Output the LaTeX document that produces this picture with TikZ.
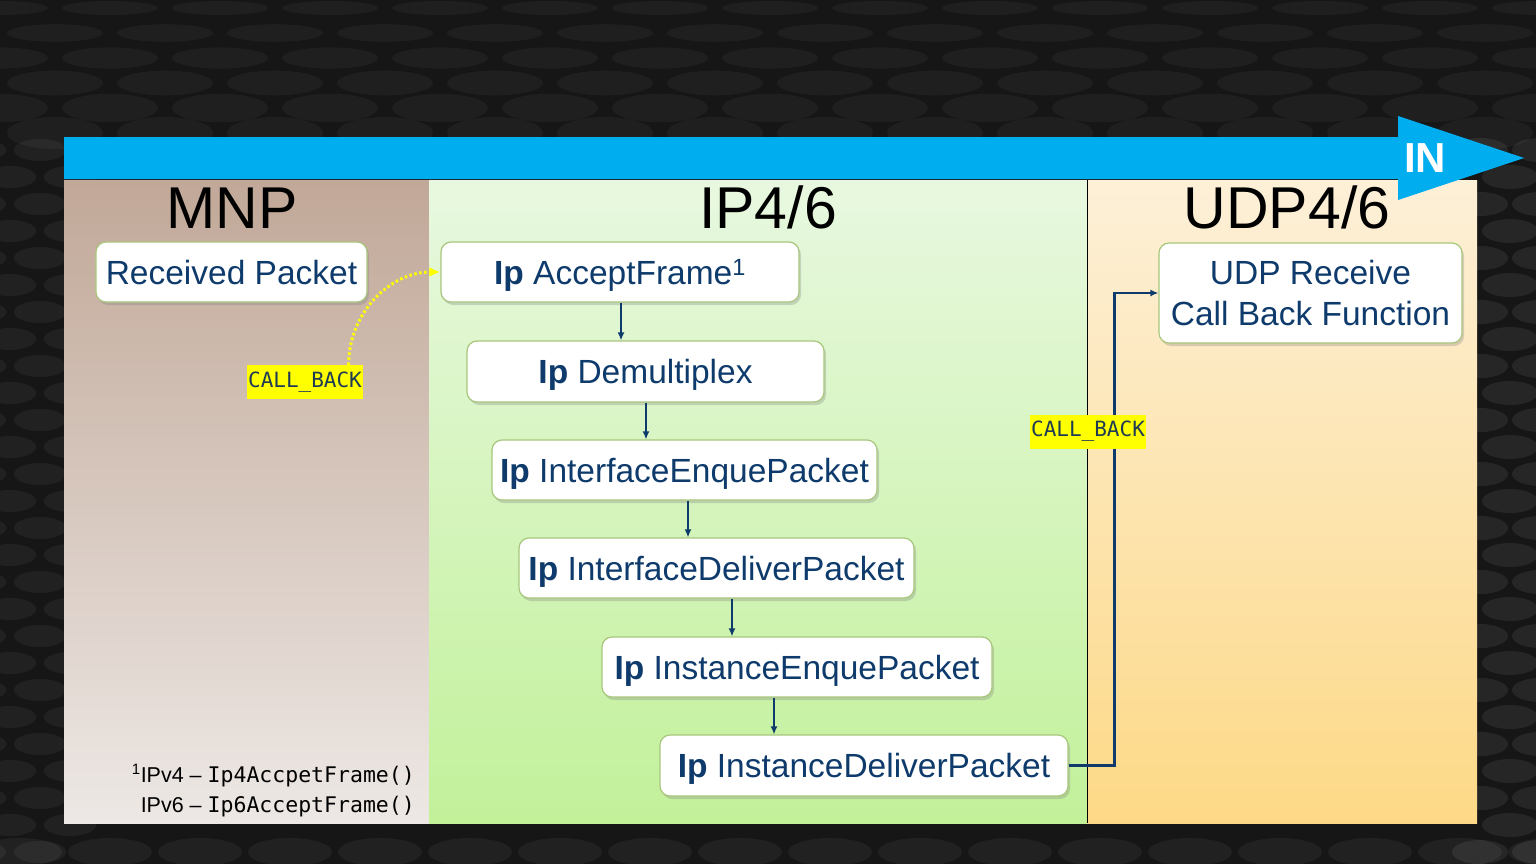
\documentclass[tikz,border=0pt]{standalone}
\usepackage{fontspec}
\setmainfont{Liberation Sans}
\newfontfamily\codefont{DejaVu Sans Mono}
\usetikzlibrary{arrows.meta,shadows}

\definecolor{bgdark}{HTML}{161616}
\definecolor{banner}{HTML}{00ADEF}
\definecolor{navy}{HTML}{0E3B6B}
\definecolor{boxline}{HTML}{A8C67C}
\definecolor{mnptop}{HTML}{C1A898}
\definecolor{mnpbot}{HTML}{EDE8E5}
\definecolor{iptop}{HTML}{E8F8E0}
\definecolor{ipbot}{HTML}{C2F19A}
\definecolor{udptop}{HTML}{FDF0D8}
\definecolor{udpbot}{HTML}{FDD987}
\definecolor{cbyellow}{HTML}{FFFF00}
\definecolor{cbtext}{HTML}{1E3A55}

\tikzset{
  fnbox/.style={draw=boxline, line width=1.2bp, fill=white, rounded corners=10bp,
    drop shadow={shadow xshift=2bp, shadow yshift=-3bp, opacity=0.3},
    text=navy, font=\fontsize{33.5bp}{40bp}\selectfont,
    text height=24bp, text depth=0bp, inner sep=0pt},
  twoline/.style={fnbox, text height=, text depth=, align=center},
  layertitle/.style={font=\fontsize{59bp}{64bp}\selectfont, text=black, anchor=base, inner sep=0pt},
  cblabel/.style={fill=cbyellow, text=cbtext, font=\codefont\fontsize{21bp}{24bp}\selectfont,
    inner xsep=1.5bp, inner ysep=0pt, minimum height=34bp},
  flow/.style={draw=navy, line width=2.4bp, -{Latex[length=8bp,width=7bp]}},
  callback/.style={draw=cbyellow, line width=3bp, dash pattern=on 2.5bp off 2.5bp,
    -{Latex[length=11bp,width=10bp]}},
  footnote/.style={font=\fontsize{21.5bp}{24bp}\selectfont, text=black, anchor=base east, inner sep=0pt},
  fncode/.style={}
}
\newcommand{\fncodetext}[1]{{\codefont\fontsize{21.5bp}{24bp}\selectfont #1}}

\begin{document}
\begin{tikzpicture}[x=1bp,y=-1bp]
\useasboundingbox (0,0) rectangle (1536,864);

% dark textured backdrop
\fill[bgdark] (0,0) rectangle (1536,864);
\foreach \r in {0,...,5}{
  \pgfmathsetmacro{\yy}{8+\r*25}
  \pgfmathsetmacro{\ry}{7+\r*1.8}
  \pgfmathsetmacro{\off}{mod(\r,2)*55}
  \foreach \c in {0,...,14}{
    \fill[white, opacity=0.04] (\off+\c*110,\yy) ellipse [x radius=48, y radius=\ry];
  }
}
\foreach \r in {0,...,26}{
  \pgfmathsetmacro{\yy}{150+\r*27}
  \pgfmathsetmacro{\off}{mod(\r,2)*30}
  \foreach \c in {0,1}{
    \fill[white, opacity=0.05] (\off-20+\c*60,\yy) ellipse [x radius=26, y radius=11];
    \fill[white, opacity=0.07] (\off+1480+\c*60,\yy) ellipse [x radius=28, y radius=12];
  }
}
\foreach \c in {0,...,17}{
  \fill[white, opacity=0.05] (\c*90+20,852) ellipse [x radius=42, y radius=14];
}

% layer panels
\shade[top color=mnptop, bottom color=mnpbot] (64,180) rectangle (429,823);
\shade[top color=iptop, bottom color=ipbot] (429,180) rectangle (1087,823);
\shade[top color=udptop, bottom color=udpbot] (1087,180) rectangle (1477,823);
\draw[black, line width=1bp] (1087,180) -- (1087,823);

% direction banner
\fill[banner] (64,137) -- (1398,137) -- (1398,116) -- (1524,158)
  -- (1398,200) -- (1398,179) -- (64,179) -- cycle;
\node[text=white, font=\bfseries\fontsize{42bp}{46bp}\selectfont, inner sep=0pt] (dir) at (1425,158) {IN};

% layer titles
\node[layertitle] (tmnp) at (232,228) {MNP};
\node[layertitle] (tip) at (768,228) {IP4/6};
\node[layertitle] (tudp) at (1287,228) {UDP4/6};

% function boxes
\node[fnbox, minimum width=271bp, minimum height=60bp] (recv) at (231.5,272) {Received Packet};
\node[fnbox, minimum width=358bp, minimum height=60bp] (accept) at (620,272) {\textbf{Ip} AcceptFrame\textsuperscript{1}};
\node[fnbox, minimum width=357bp, minimum height=61bp] (demux) at (645.5,371.5) {\textbf{Ip} Demultiplex};
\node[fnbox, minimum width=385bp, minimum height=60bp] (ifenq) at (684.5,470) {\textbf{Ip} InterfaceEnquePacket};
\node[fnbox, minimum width=395bp, minimum height=60bp] (ifdel) at (716.5,568) {\textbf{Ip} InterfaceDeliverPacket};
\node[fnbox, minimum width=390bp, minimum height=60bp] (inenq) at (797,667) {\textbf{Ip} InstanceEnquePacket};
\node[fnbox, minimum width=408bp, minimum height=61bp] (indel) at (864,765.5) {\textbf{Ip} InstanceDeliverPacket};
\node[twoline, minimum width=303bp, minimum height=100bp] (udprx) at (1310.5,293)
  {UDP Receive\\[1bp]Call Back Function};

% callback labels
\node[cblabel] (cbmnp) at (305,382) {CALL\_BACK};
\node[cblabel] (cbudp) at (1088,431.5) {CALL\_BACK};

% x positions of the vertical hand-offs
\coordinate (x1) at (621,0);
\coordinate (x2) at (646,0);
\coordinate (x3) at (688,0);
\coordinate (x4) at (732,0);
\coordinate (x5) at (774,0);

% processing chain
\draw[flow] (accept.south -| x1) -- (demux.north -| x1);
\draw[flow] (demux.south -| x2) -- (ifenq.north -| x2);
\draw[flow] (ifenq.south -| x3) -- (ifdel.north -| x3);
\draw[flow] (ifdel.south -| x4) -- (inenq.north -| x4);
\draw[flow] (inenq.south -| x5) -- (indel.north -| x5);

% hand-off to UDP, label kept on top of the line
\draw[flow] (indel.east) -- ++(46,0) |- (udprx.west);
\node[cblabel] at (cbudp) {CALL\_BACK};

% receive callback into IP
\draw[callback] ([xshift=-15bp]cbmnp.north east) to[out=90, in=180] (accept.west);

% footnote
\node[footnote] (fn1) at (415,782) {\textsuperscript{1}IPv4 -- \fncodetext{Ip4AccpetFrame()}};
\node[footnote] (fn2) at (415,812) {IPv6 -- \fncodetext{Ip6AcceptFrame()}};
\end{tikzpicture}
\end{document}
